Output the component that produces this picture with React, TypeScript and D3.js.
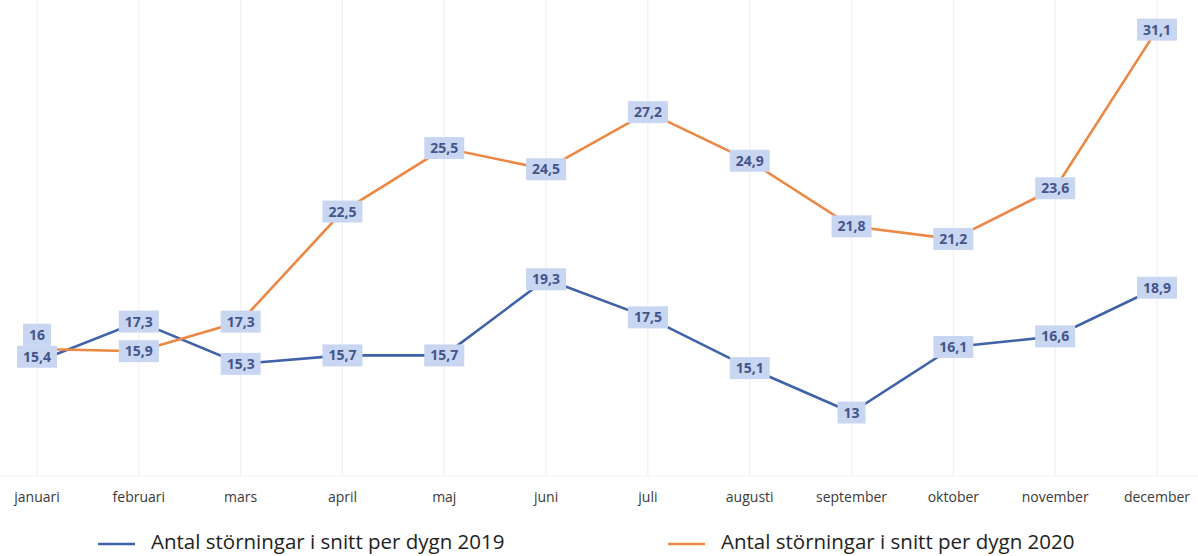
import { useRef, useEffect } from "react";
import * as d3 from "d3";

const months = [
  "januari", "februari", "mars", "april", "maj", "juni",
  "juli", "augusti", "september", "oktober", "november", "december",
];
const values2019 = [15.4, 17.3, 15.3, 15.7, 15.7, 19.3, 17.5, 15.1, 13, 16.1, 16.6, 18.9];
const values2020 = [16, 15.9, 17.3, 22.5, 25.5, 24.5, 27.2, 24.9, 21.8, 21.2, 23.6, 31.1];
const seriesNames = [
  "Antal störningar i snitt per dygn 2019",
  "Antal störningar i snitt per dygn 2020",
];

const W = 1198;
const H = 556;
const COLORS = ["#3f62a8", "#ec8844"];
const BOX_H = 22;

export default function App() {
  const ref = useRef<SVGSVGElement | null>(null);

  useEffect(() => {
    const svg = d3.select(ref.current);
    svg.selectAll("*").remove();

    const x = d3.scalePoint<string>().domain(months).range([37, 1157]);
    const y = d3.scaleLinear().domain([10, 32.5]).range([476, 0]);

    // faint vertical gridlines
    svg.append("g")
      .selectAll("line")
      .data(months)
      .join("line")
      .attr("x1", (d) => x(d)!)
      .attr("x2", (d) => x(d)!)
      .attr("y1", 0)
      .attr("y2", y(10))
      .attr("stroke", "#f0f0f0")
      .attr("stroke-width", 1.2);

    svg.append("line")
      .attr("x1", 0).attr("x2", W)
      .attr("y1", y(10)).attr("y2", y(10))
      .attr("stroke", "#f3f3f3");

    // month labels
    svg.append("g")
      .selectAll("text")
      .data(months)
      .join("text")
      .attr("x", (d) => x(d)!)
      .attr("y", 502)
      .attr("text-anchor", "middle")
      .attr("font-family", "Open Sans, sans-serif")
      .attr("font-size", 14)
      .attr("fill", "#3a3a3a")
      .text((d) => d);

    const series = [values2019, values2020];
    const line = d3.line<number>()
      .x((_, i) => x(months[i])!)
      .y((d) => y(d));

    series.forEach((vals, si) => {
      svg.append("path")
        .datum(vals)
        .attr("fill", "none")
        .attr("stroke", COLORS[si])
        .attr("stroke-width", 2.6)
        .attr("d", line);
    });

    // label positions, with a simple push when the two boxes collide
    const labelY = series.map((vals) => vals.map((v) => y(v)));
    months.forEach((_, i) => {
      const a = labelY[0][i];
      const b = labelY[1][i];
      if (Math.abs(a - b) < BOX_H + 2) {
        const lowIdx = a > b ? 0 : 1;
        const highIdx = 1 - lowIdx;
        labelY[lowIdx][i] = labelY[lowIdx][i] - 5;
        labelY[highIdx][i] = labelY[lowIdx][i] - BOX_H;
      }
    });

    const fmt = (v: number) => String(v).replace(".", ",");

    series.forEach((vals, si) => {
      const g = svg.append("g")
        .selectAll("g")
        .data(vals)
        .join("g")
        .attr("transform", (_, i) => `translate(${x(months[i])},${labelY[si][i]})`);

      const txt = g.append("text")
        .attr("text-anchor", "middle")
        .attr("dy", "0.36em")
        .attr("font-family", "Open Sans, sans-serif")
        .attr("font-weight", 700)
        .attr("font-size", 14)
        .attr("fill", "#44558a")
        .text((d) => fmt(d));

      txt.each(function () {
        const bb = (this as SVGTextElement).getBBox();
        d3.select((this as SVGTextElement).parentNode as SVGGElement)
          .insert("rect", "text")
          .attr("x", -bb.width / 2 - 6)
          .attr("y", -BOX_H / 2)
          .attr("width", bb.width + 12)
          .attr("height", BOX_H)
          .attr("fill", "#c9d6f2");
      });
    });

    // legend
    const legendX = [98, 668];
    series.forEach((_, si) => {
      const lg = svg.append("g").attr("transform", `translate(${legendX[si]},544)`);
      lg.append("line")
        .attr("x1", 0).attr("x2", 37)
        .attr("stroke", COLORS[si])
        .attr("stroke-width", 2.6);
      lg.append("text")
        .attr("x", 53)
        .attr("y", 5)
        .attr("font-family", "Open Sans, sans-serif")
        .attr("font-size", 20.5)
        .attr("fill", "#222")
        .text(seriesNames[si]);
    });
  }, []);

  return (
    <svg
      ref={ref}
      width={W}
      height={H}
      style={{ position: "absolute", left: 0, top: 0, background: "#fff" }}
    />
  );
}
